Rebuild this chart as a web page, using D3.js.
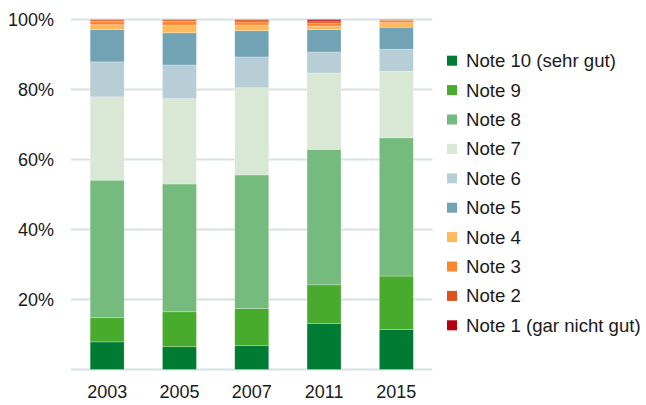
<!DOCTYPE html>
<html>
<head>
<meta charset="utf-8">
<script src="https://cdn.jsdelivr.net/npm/d3@7"></script>
<style>
  body { margin: 0; background: #fff; }
  svg { font-family: "Liberation Sans", Arial, sans-serif; }
</style>
</head>
<body>
<main></main>
<script>
const w = 646;
const h = 405;

// values in percent
const years = ["2003", "2005", "2007", "2011", "2015"];
const note10 = [7.9, 6.5, 6.8, 13.1, 11.4];
const note9 = [6.9, 10.0, 10.6, 11.1, 15.3];
const note8 = [39.3, 36.5, 38.2, 38.7, 39.5];
const note7 = [23.8, 24.4, 24.9, 21.8, 19.0];
const note6 = [10.0, 9.6, 8.8, 6.0, 6.3];
const note5 = [9.2, 9.2, 7.5, 6.4, 6.3];
const note4 = [1.4, 2.2, 1.6, 1.0, 1.3];
const note3 = [1.0, 1.1, 0.9, 0.9, 0.7];
const note2 = [0.4, 0.4, 0.6, 0.6, 0.2];
const note1 = [0.1, 0.1, 0.1, 0.4, 0.0];
const yTicks = [0, 20, 40, 60, 80, 100];

const keys = ["Note 10 (sehr gut)", "Note 9", "Note 8", "Note 7", "Note 6",
              "Note 5", "Note 4", "Note 3", "Note 2", "Note 1 (gar nicht gut)"];
const series = [note10, note9, note8, note7, note6, note5, note4, note3, note2, note1];
const colors = ["#007b33", "#48ab2d", "#75bb7d", "#d8e8d4", "#b8ced7",
                "#72a3b5", "#feb95a", "#fd8631", "#e0501a", "#b5000f"];

const table = years.map((y, i) => {
    const row = { year: y };
    keys.forEach((k, j) => row[k] = series[j][i]);
    return row;
});

const stacked = d3.stack().keys(keys)(table);

const xScale = d3.scaleBand()
    .domain(years)
    .range([71, 432.5])
    .paddingInner(0.53)
    .paddingOuter(0.265);

const yScale = d3.scaleLinear()
    .domain([0, 100])
    .range([369.5, 19.5]);

const color = d3.scaleOrdinal().domain(keys).range(colors);

const svg = d3.select("main")
    .append("svg")
    .attr("width", w)
    .attr("height", h);

// grid
svg.append("g")
    .selectAll("line")
    .data(yTicks)
    .enter()
    .append("line")
    .attr("x1", 71)
    .attr("x2", 432.5)
    .attr("y1", d => yScale(d))
    .attr("y2", d => yScale(d))
    .attr("stroke", "#d5e2e6")
    .attr("stroke-width", 2);

// y labels
const yAxis = d3.axisLeft(yScale)
    .tickValues(yTicks)
    .tickSize(0)
    .tickPadding(0)
    .tickFormat(d => d === 0 ? "" : d + "%");

svg.append("g")
    .attr("transform", "translate(54, 0)")
    .call(yAxis)
    .call(g => g.select(".domain").remove())
    .call(g => g.selectAll("text")
        .attr("font-size", "18px")
        .attr("fill", "#1a1a1a")
        .attr("font-family", "Liberation Sans, Arial, sans-serif"));

// bars
svg.append("g")
    .selectAll("g")
    .data(stacked)
    .enter()
    .append("g")
    .attr("fill", d => color(d.key))
    .selectAll("rect")
    .data(d => d)
    .enter()
    .append("rect")
    .attr("x", d => xScale(d.data.year))
    .attr("y", d => yScale(d[1]))
    .attr("width", xScale.bandwidth())
    .attr("height", d => yScale(d[0]) - yScale(d[1]))
    .attr("stroke", "#ffffff")
    .attr("stroke-opacity", 0.35)
    .attr("stroke-width", 0.7);

// x labels
const xAxis = d3.axisBottom(xScale).tickSize(0).tickPadding(0);

svg.append("g")
    .attr("transform", "translate(0, 385)")
    .call(xAxis)
    .call(g => g.select(".domain").remove())
    .call(g => g.selectAll("text")
        .attr("font-size", "18px")
        .attr("fill", "#1a1a1a")
        .attr("font-family", "Liberation Sans, Arial, sans-serif"));

// legend
const legend = svg.append("g")
    .selectAll("g")
    .data(keys)
    .enter()
    .append("g")
    .attr("transform", (d, i) => "translate(447, " + (60.7 + i * 29.4) + ")");

legend.append("rect")
    .attr("x", 0)
    .attr("y", -5)
    .attr("width", 10)
    .attr("height", 10)
    .attr("fill", d => color(d));

legend.append("text")
    .attr("x", 19)
    .attr("y", 0)
    .attr("dy", "0.35em")
    .attr("font-size", "18.6px")
    .attr("fill", "#1a1a1a")
    .text(d => d);
</script>
</body>
</html>
